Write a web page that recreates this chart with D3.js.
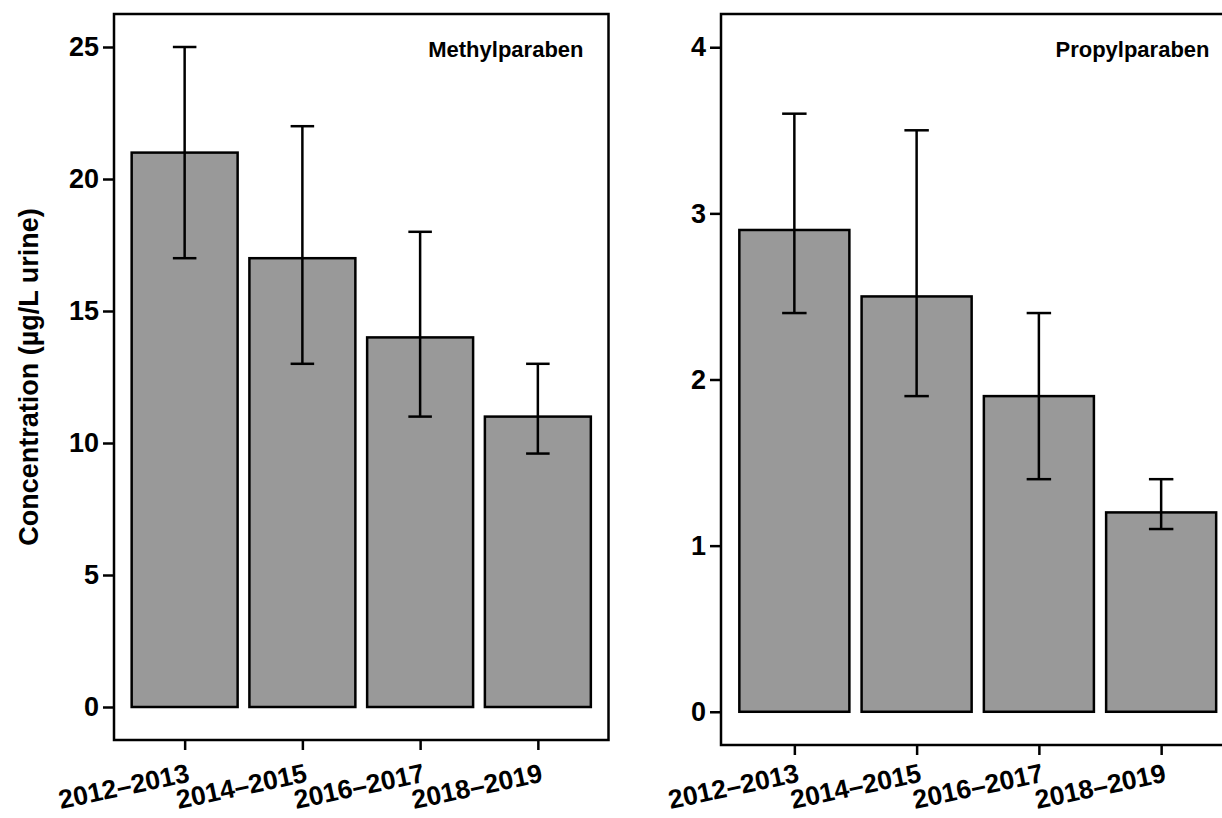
<!DOCTYPE html>
<html>
<head>
<meta charset="utf-8">
<script src="https://cdn.jsdelivr.net/npm/d3@7"></script>
<style>
  html, body { margin: 0; padding: 0; background: #fff; }
  svg { display: block; }
  text { font-family: "Liberation Sans", Arial, Helvetica, sans-serif; font-weight: bold; fill: #000; }
</style>
</head>
<body>
<svg id="chart" width="1222" height="818"></svg>
<script>
// ---- data ----
const categories = ["2012–2013", "2014–2015", "2016–2017", "2018–2019"];

const methylMean  = [21, 17, 14, 11];
const methylLower = [17, 13, 11, 9.6];
const methylUpper = [25, 22, 18, 13];
const methylTicks = [0, 5, 10, 15, 20, 25];
const methylLimit = 25;

const propylMean  = [2.9, 2.5, 1.9, 1.2];
const propylLower = [2.4, 1.9, 1.4, 1.1];
const propylUpper = [3.6, 3.5, 2.4, 1.4];
const propylTicks = [0, 1, 2, 3, 4];
const propylLimit = 4;

const panelTitles = ["Methylparaben", "Propylparaben"];
const yTitle = "Concentration (µg/L urine)";

// ---- drawing ----
const svg = d3.select("#chart");

function drawPanel(cfg) {
  const g = svg.append("g");
  const x = d3.scalePoint().domain(categories).range([cfg.left, cfg.right]).padding(0.6);
  const step = x.step();
  const bw = step * 0.9;
  const capW = step * 0.2;
  const y = d3.scaleLinear()
    .domain([-0.05 * cfg.limit, 1.05 * cfg.limit])
    .range([cfg.bottom, cfg.top]);

  const rows = categories.map((c, i) => ({ c, m: cfg.mean[i], lo: cfg.lower[i], hi: cfg.upper[i] }));

  // bars
  g.selectAll("rect.bar").data(rows).enter().append("rect")
    .attr("class", "bar")
    .attr("x", d => x(d.c) - bw / 2)
    .attr("width", bw)
    .attr("y", d => y(d.m))
    .attr("height", d => y(0) - y(d.m))
    .attr("fill", "#999999")
    .attr("stroke", "#000")
    .attr("stroke-width", 2.5);

  // error bars
  const eb = g.selectAll("g.err").data(rows).enter().append("g").attr("class", "err")
    .attr("stroke", "#000").attr("stroke-width", 2.5).attr("fill", "none");
  eb.append("line")
    .attr("x1", d => x(d.c)).attr("x2", d => x(d.c))
    .attr("y1", d => y(d.lo)).attr("y2", d => y(d.hi));
  eb.append("line")
    .attr("x1", d => x(d.c) - capW / 2).attr("x2", d => x(d.c) + capW / 2)
    .attr("y1", d => y(d.hi)).attr("y2", d => y(d.hi));
  eb.append("line")
    .attr("x1", d => x(d.c) - capW / 2).attr("x2", d => x(d.c) + capW / 2)
    .attr("y1", d => y(d.lo)).attr("y2", d => y(d.lo));

  // frame
  g.append("rect")
    .attr("x", cfg.left).attr("y", cfg.top)
    .attr("width", cfg.right - cfg.left).attr("height", cfg.bottom - cfg.top)
    .attr("fill", "none").attr("stroke", "#000").attr("stroke-width", 2.5);

  // y axis
  const ya = g.append("g").attr("transform", `translate(${cfg.left},0)`)
    .call(d3.axisLeft(y).tickValues(cfg.ticks).tickSize(11).tickPadding(4).tickFormat(d3.format("d")));
  ya.select(".domain").remove();
  ya.selectAll(".tick line").attr("stroke", "#000").attr("stroke-width", 2.5);
  ya.selectAll(".tick text").style("font-size", "27px").attr("fill", "#000");

  // x axis
  const xa = g.append("g").attr("transform", `translate(0,${cfg.bottom})`)
    .call(d3.axisBottom(x).tickSize(10).tickFormat(""));
  xa.select(".domain").remove();
  xa.selectAll(".tick line").attr("stroke", "#000").attr("stroke-width", 2.5);

  g.selectAll("text.xlab").data(categories).enter().append("text")
    .attr("class", "xlab")
    .attr("transform", d => `translate(${x(d) + 2},${cfg.labelY}) rotate(-12)`)
    .attr("text-anchor", "end")
    .attr("dy", "0.71em")
    .style("font-size", "26.5px")
    .text(d => d);

  // panel title
  g.append("text")
    .attr("x", cfg.right - 25).attr("y", cfg.top + 43)
    .attr("text-anchor", "end")
    .style("font-size", "22px")
    .text(cfg.title);
}

drawPanel({ left: 114, right: 608.5, top: 14, bottom: 740, labelY: 763, limit: methylLimit,
  mean: methylMean, lower: methylLower, upper: methylUpper, ticks: methylTicks, title: panelTitles[0] });
drawPanel({ left: 721, right: 1234.5, top: 14, bottom: 745, labelY: 763, limit: propylLimit,
  mean: propylMean, lower: propylLower, upper: propylUpper, ticks: propylTicks, title: panelTitles[1] });

svg.append("text")
  .attr("transform", "translate(38,377) rotate(-90)")
  .attr("text-anchor", "middle")
  .style("font-size", "27px")
  .text(yTitle);
</script>
</body>
</html>
